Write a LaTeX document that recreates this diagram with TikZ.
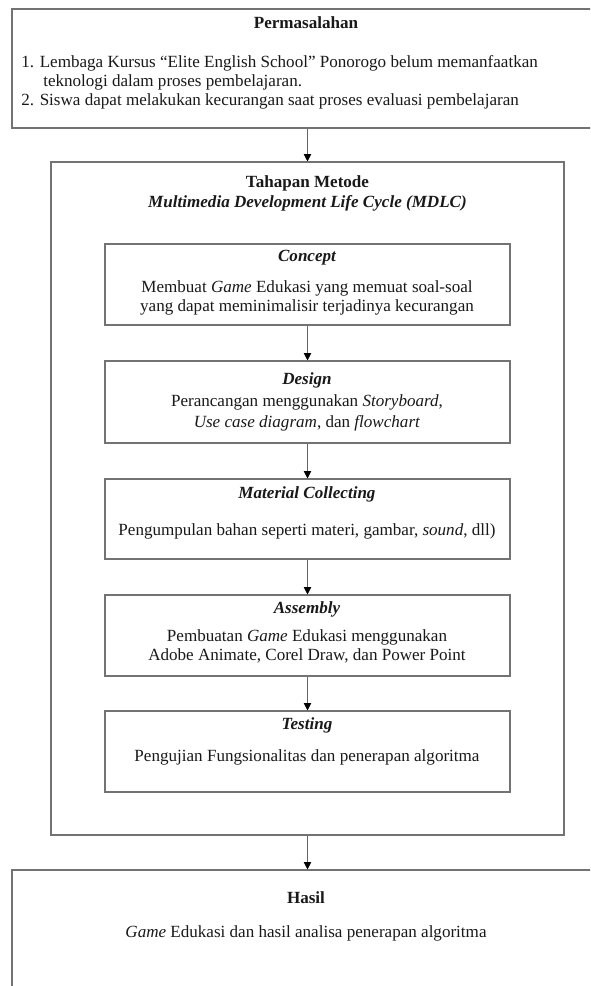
\documentclass[tikz,border=0pt]{standalone}
\usepackage{fontspec}
\setmainfont{Liberation Serif}
\usetikzlibrary{calc,arrows.meta}
\def\px{0.75pt}
\tikzset{
  box/.style={draw=black!55, line width=0.8pt, inner sep=0pt},
  txt/.style={inner sep=0pt, text=black!90, align=center, font=\fontsize{12.8}{14.25}\selectfont},
  head/.style={txt, font=\fontsize{12.8}{14.25}\selectfont\bfseries},
  step head/.style={txt, font=\fontsize{12.8}{14.25}\selectfont\bfseries\itshape},
  flow/.style={draw=black!60, line width=0.7pt, -{Triangle[length=5.5pt,width=5.5pt,color=black]}}
}

\begin{document}
\begin{tikzpicture}[x=\px, y=-\px]
			%%%%% START %%%%%
			\useasboundingbox (0, 0) rectangle (590, 986);
			\clip (0, 0) rectangle (590, 986);
			
			% Permasalahan
			\node[box, minimum width=588*\px, minimum height=119*\px] (problem) at (306, 68.5) {};
			\node[head] (problemhead) at (306, 23) {Permasalahan};
			\node[txt, align=left, anchor=west] (problemtext) at (21, 82) {1. Lembaga Kursus “Elite English School” Ponorogo belum memanfaatkan\\\hspace*{16.5pt}teknologi dalam proses pembelajaran.\\2. Siswa dapat melakukan kecurangan saat proses evaluasi pembelajaran};
			
			% Tahapan Metode
			\node[box, minimum width=513*\px, minimum height=673*\px] (method) at (307.5, 498.5) {};
			\node[head] (methodhead) at (307.5, 183.5) {Tahapan Metode};
			\node[step head] (methodsub) at (307.5, 203) {Multimedia Development Life Cycle (MDLC)};
			
			\node[box, minimum width=405*\px, minimum height=81*\px] (concept) at (307.5, 284.5) {};
			\node[step head] (concepthead) at (307, 258) {Concept};
			\node[txt] (concepttext) at (307, 298) {Membuat \textit{Game} Edukasi yang memuat soal-soal\\yang dapat meminimalisir terjadinya kecurangan};
			
			\node[box, minimum width=405*\px, minimum height=82*\px] (design) at (307.5, 402) {};
			\node[step head] (designhead) at (307, 380) {Design};
			\node[txt, font=\fontsize{12.8}{15.75}\selectfont] (designtext) at (307, 413) {Perancangan menggunakan \textit{Storyboard},\\\textit{Use case diagram}, dan \textit{flowchart}};
			
			\node[box, minimum width=405*\px, minimum height=80*\px] (material) at (307.5, 519) {};
			\node[step head] (materialhead) at (307, 494) {Material Collecting};
			\node[txt] (materialtext) at (307, 531) {Pengumpulan bahan seperti materi, gambar, \textit{sound}, dll)};
			
			\node[box, minimum width=405*\px, minimum height=81*\px] (assembly) at (307.5, 635.5) {};
			\node[step head] (assemblyhead) at (307, 609) {Assembly};
			\node[txt] (assemblytext) at (307, 646.5) {Pembuatan \textit{Game} Edukasi menggunakan\\Adobe Animate, Corel Draw, dan Power Point};
			
			\node[box, minimum width=405*\px, minimum height=81*\px] (testing) at (307.5, 751.5) {};
			\node[step head] (testinghead) at (307, 725) {Testing};
			\node[txt] (testingtext) at (307, 757) {Pengujian Fungsionalitas dan penerapan algoritma};
			
			% Hasil
			\node[box, minimum width=588*\px, minimum height=130*\px] (result) at (306, 935) {};
			\node[head] (resulthead) at (306, 898) {Hasil};
			\node[txt] (resulttext) at (306, 933) {\textit{Game} Edukasi dan hasil analisa penerapan algoritma};
			
			\draw[flow] (method.north |- problem.south) -- (method.north);
			\draw[flow] (concept) -- (design);
			\draw[flow] (design) -- (material);
			\draw[flow] (material) -- (assembly);
			\draw[flow] (assembly) -- (testing);
			\draw[flow] (method.south) -- (method.south |- result.north);
			%%%%% END %%%%%
\end{tikzpicture}
\end{document}
